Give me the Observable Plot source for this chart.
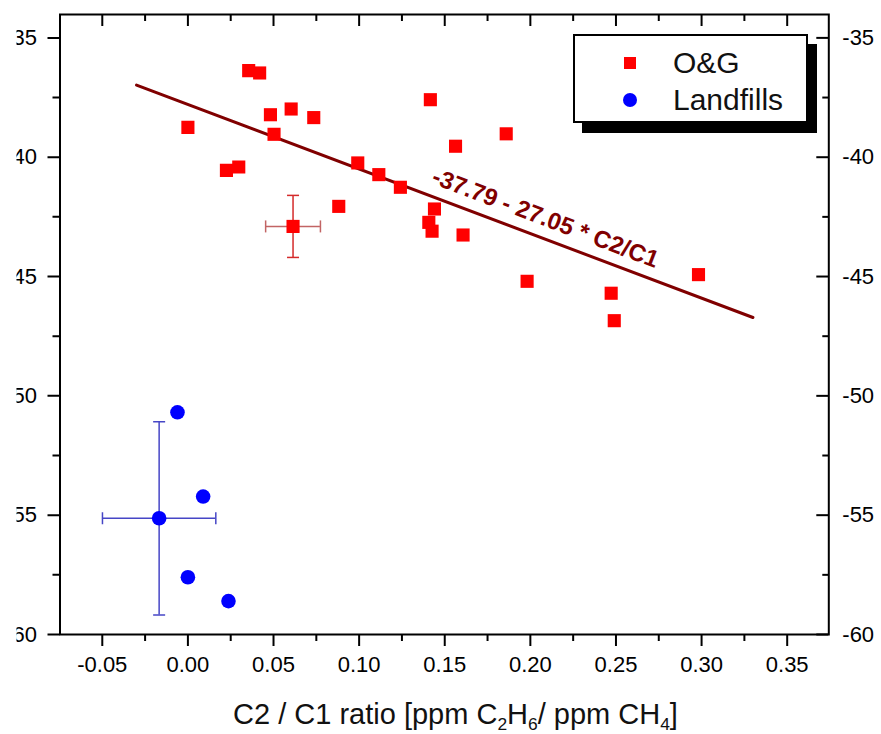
<!DOCTYPE html>
<html>
<head>
<meta charset="utf-8">
<script src="https://cdn.jsdelivr.net/npm/d3@7"></script>
<script src="https://cdn.jsdelivr.net/npm/@observablehq/plot@0.6"></script>
<style>
  html, body { margin: 0; padding: 0; background: #fff; }
  body { font-family: "Liberation Sans", Arial, sans-serif; }
  #wrap { position: relative; width: 881px; height: 734px; overflow: hidden; }
  #wrap svg.plot { position: absolute; left: 0; top: 0; clip-path: inset(0 0 0 16.5px); }
  #legend {
    position: absolute; left: 573px; top: 33.5px; width: 231px; height: 85px;
    border: 2px solid #000; background: #fff; box-shadow: 9px 10px 0 #000;
    font-size: 30px; color: #111;
  }
  #legend .row { position: absolute; left: 0; height: 34px; display: flex; align-items: center; }
  #legend .sym { margin-left: 41px; width: 28px; display: flex; justify-content: center; }
  #legend .lbl { margin-left: 29px; }
  #xlabel {
    position: absolute; left: 15px; width: 881px; top: 698px; text-align: center;
    font-size: 29px; color: #111; white-space: nowrap;
  }
  #xlabel sub { font-size: 60%; vertical-align: -0.35em; line-height: 0; }
</style>
</head>
<body>
<div id="wrap"></div>
<script>
// ---- data ----
const ogX = [0.0355, 0.0419, 0.0000, 0.0482, 0.0603, 0.0735, 0.0503, 0.0225, 0.0297, 0.0881,
             0.1416, 0.1859, 0.1563, 0.0992, 0.1115, 0.1241, 0.1440, 0.1407, 0.1426, 0.1607,
             0.1981, 0.2472, 0.2490, 0.2982];
const ogY = [-36.37, -36.47, -38.75, -38.22, -37.98, -38.34, -39.04, -40.55, -40.41, -42.06,
             -37.59, -39.02, -39.54, -40.24, -40.73, -41.26, -42.17, -42.73, -43.10, -43.26,
             -45.20, -45.70, -46.85, -44.92];
const lfX = [-0.0061, 0.0089, 0.0000, 0.0237];
const lfY = [-50.69, -54.22, -57.60, -58.60];

const meanGroup = ["O&G", "Landfills"];
const meanX = [0.0614, -0.0168];
const meanY = [-42.90, -55.13];
const meanXErr = [0.016, 0.0331];
const meanYErr = [1.30, 4.05];

const fitIntercept = -37.79;
const fitSlope = -27.05;
const fitRange = [-0.03, 0.33];
const fitLabel = "-37.79 - 27.05 * C2/C1";
const fitLabelX = 0.2088;

const xTicks = [-0.05, 0.00, 0.05, 0.10, 0.15, 0.20, 0.25, 0.30, 0.35];
const xMinor = [-0.025, 0.025, 0.075, 0.125, 0.175, 0.225, 0.275, 0.325];
const yTicks = [-60, -55, -50, -45, -40, -35];
const yMinor = [-57.5, -52.5, -47.5, -42.5, -37.5];

const seriesNames = ["O&G", "Landfills"];
const seriesColors = ["#ff0000", "#0000ff"];

// ---- build tables ----
const og = ogX.map((x, i) => ({x, y: ogY[i]}));
const lf = lfX.map((x, i) => ({x, y: lfY[i]}));
const means = meanGroup.map((g, i) => ({g, x: meanX[i], y: meanY[i], xe: meanXErr[i], ye: meanYErr[i]}));
const fit = fitRange.map(x => ({x, y: fitIntercept + fitSlope * x}));

const W = 881, H = 690;
const mL = 59.5, mR = 52.7, mT = 14, mB = 56;
const fW = W - mL - mR, fH = H - mT - mB;

const hcap = {draw(ctx, size) { const w = Math.sqrt(size) / 2; ctx.moveTo(-w, 0); ctx.lineTo(w, 0); }};
const vcap = {draw(ctx, size) { const w = Math.sqrt(size) / 2; ctx.moveTo(0, -w); ctx.lineTo(0, w); }};
const capR = 12 / Math.sqrt(Math.PI);

const vColor = {"O&G": "#d42a2a", "Landfills": "#4646c6"};
const hColor = {"O&G": "#c26464", "Landfills": "#4646c6"};

const plot = Plot.plot({
  width: W, height: H,
  marginLeft: mL, marginRight: mR, marginTop: mT, marginBottom: mB,
  style: {fontFamily: "'Liberation Sans', Arial, sans-serif", fontSize: "22px", color: "#000", background: "transparent"},
  x: {domain: [-0.0747, 0.3743], axis: null},
  y: {domain: [-60, -34.02], axis: null},
  marks: [
    // tick marks
    Plot.tickY(yTicks, {y: d => d, insetLeft: -12, insetRight: fW, stroke: "#000", strokeWidth: 2}),
    Plot.tickY(yMinor, {y: d => d, insetLeft: -7, insetRight: fW, stroke: "#000", strokeWidth: 2}),
    Plot.tickY(yTicks, {y: d => d, insetLeft: fW - 12, insetRight: 0, stroke: "#000", strokeWidth: 2}),
    Plot.tickY(yMinor, {y: d => d, insetLeft: fW - 6, insetRight: 0, stroke: "#000", strokeWidth: 2}),
    Plot.tickX(xTicks, {x: d => d, insetTop: 0, insetBottom: fH - 12, stroke: "#000", strokeWidth: 2}),
    Plot.tickX(xMinor, {x: d => d, insetTop: 0, insetBottom: fH - 7, stroke: "#000", strokeWidth: 2}),
    Plot.tickX(xTicks, {x: d => d, insetTop: fH, insetBottom: -12, stroke: "#000", strokeWidth: 2}),
    Plot.tickX(xMinor, {x: d => d, insetTop: fH, insetBottom: -7, stroke: "#000", strokeWidth: 2}),
    // tick labels
    Plot.axisY({anchor: "left", ticks: yTicks, tickSize: 0, tickPadding: 23, tickFormat: d => String(d), label: null}),
    Plot.axisY({anchor: "right", ticks: yTicks, tickSize: 0, tickPadding: 13.5, tickFormat: d => String(d), label: null}),
    Plot.axisX({anchor: "bottom", ticks: xTicks, tickSize: 0, tickPadding: 22, tickFormat: d => d.toFixed(2), label: null}),
    Plot.frame({stroke: "#000", strokeWidth: 2}),
    // regression line and label
    Plot.line(fit, {x: "x", y: "y", stroke: "#800000", strokeWidth: 3}),
    Plot.text([fitLabel], {
      x: () => fitLabelX, y: () => fitIntercept + fitSlope * fitLabelX, text: d => d,
      rotate: 20.8, dy: -21, fill: "#800000", fontSize: 24, fontWeight: "bold"
    }),
    // error bars
    Plot.ruleX(means, {x: "x", y1: d => d.y - d.ye, y2: d => d.y + d.ye, stroke: d => vColor[d.g], strokeWidth: 1.5}),
    Plot.ruleY(means, {y: "y", x1: d => d.x - d.xe, x2: d => d.x + d.xe, stroke: d => hColor[d.g], strokeWidth: 1.5}),
    Plot.dot(means.flatMap(d => [{...d, yy: d.y - d.ye}, {...d, yy: d.y + d.ye}]),
      {x: "x", y: "yy", symbol: hcap, r: capR, fill: "none", stroke: d => vColor[d.g], strokeWidth: 1.5}),
    Plot.dot(means.flatMap(d => [{...d, xx: d.x - d.xe}, {...d, xx: d.x + d.xe}]),
      {x: "xx", y: "y", symbol: vcap, r: capR, fill: "none", stroke: d => hColor[d.g], strokeWidth: 1.5}),
    // points
    Plot.dot(og, {x: "x", y: "y", symbol: "square", r: 7.4, fill: seriesColors[0]}),
    Plot.dot(means.filter(d => d.g === "O&G"), {x: "x", y: "y", symbol: "square", r: 7.4, fill: seriesColors[0]}),
    Plot.dot(lf, {x: "x", y: "y", symbol: "circle", r: 7.3, fill: seriesColors[1]}),
    Plot.dot(means.filter(d => d.g === "Landfills"), {x: "x", y: "y", symbol: "circle", r: 7.3, fill: seriesColors[1]})
  ]
});
plot.classList.add("plot");
const wrap = document.getElementById("wrap");
wrap.appendChild(plot);

// legend
const legend = document.createElement("div");
legend.id = "legend";
const symSvg = [
  '<svg width="14" height="14"><rect x="1" y="1" width="12" height="12" fill="#ff0000"/></svg>',
  '<svg width="16" height="16"><circle cx="8" cy="8" r="7" fill="#0000ff"/></svg>'
];
const rowTops = [10, 47];
seriesNames.forEach((name, i) => {
  const row = document.createElement("div");
  row.className = "row";
  row.style.top = rowTops[i] + "px";
  row.innerHTML = `<span class="sym">${symSvg[i]}</span><span class="lbl">${name.replace("&", "&amp;")}</span>`;
  legend.appendChild(row);
});
wrap.appendChild(legend);

// x-axis title
const xl = document.createElement("div");
xl.id = "xlabel";
xl.innerHTML = "C2 / C1 ratio [ppm C<sub>2</sub>H<sub>6</sub>/ ppm CH<sub>4</sub>]";
wrap.appendChild(xl);
</script>
</body>
</html>
